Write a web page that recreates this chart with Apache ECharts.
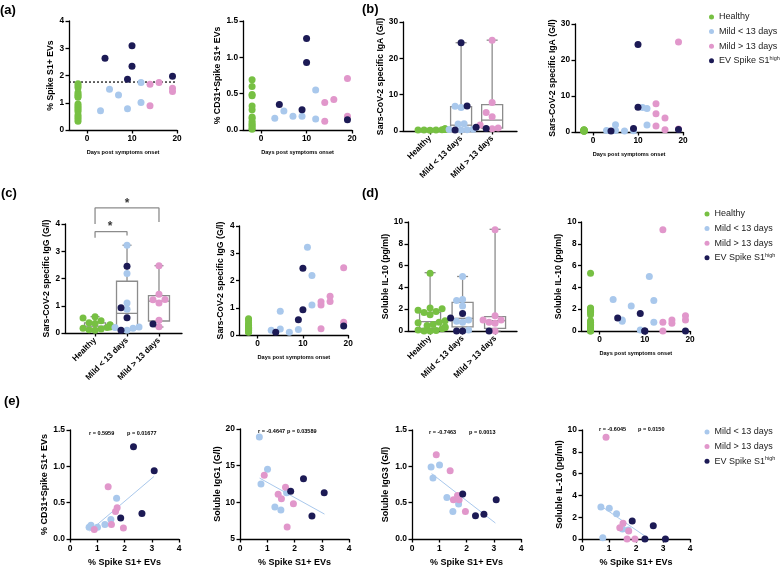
<!DOCTYPE html>
<html>
<head>
<meta charset="utf-8">
<script src="https://cdn.jsdelivr.net/npm/echarts@6/dist/echarts.min.js"></script>
<style>
  html, body { margin: 0; padding: 0; background: #fff; }
  #chart { width: 780px; height: 568px; }
</style>
</head>
<body>
<div id="chart"></div>
<script>
// ---------- data ----------
var groups = ['Healthy', 'Mild < 13 days', 'Mild > 13 days', 'EV Spike S1high'];
var boxCats = ['Healthy', 'Mild < 13 days', 'Mild > 13 days'];
var healthyDay = -2;          // healthy donors are plotted left of day 0
var dayTicks = [0, 10, 20];

// (a) % Spike S1+ EVs vs days
var spikeHealthy = [0.32, 0.4, 0.48, 0.55, 0.68, 0.75, 0.82, 0.88, 0.95, 1.2, 1.25, 1.3, 1.38, 1.55, 1.62, 1.7];
var spikeEarly = [[3, 0.71], [5, 1.5], [7, 1.28], [9, 0.78], [12, 1.01], [12, 1.74]];
var spikeLate = [[14, 1.68], [14, 0.89], [16, 1.74], [19, 1.53], [19, 1.41]];
var spikeHigh = [[4, 2.63], [9, 1.86], [10, 3.09], [10, 2.34], [19, 1.97]];
var spikeCutoff = 1.76;

// (a) % CD31+Spike S1+ EVs vs days
var cd31Healthy = [0.69, 0.6, 0.49, 0.47, 0.33, 0.28, 0.18, 0.16, 0.12, 0.09, 0.07, 0.05, 0.02, 0.01];
var cd31Early = [[3, 0.16], [5, 0.26], [7, 0.19], [9, 0.19], [12, 0.55], [12, 0.15]];
var cd31Late = [[14, 0.38], [14, 0.12], [16, 0.42], [19, 0.71], [19, 0.19]];
var cd31High = [[4, 0.35], [9, 0.28], [10, 1.26], [10, 0.93], [19, 0.14]];

// (b) IgA
var igaHealthy = [0.2, 0.25, 0.3, 0.3, 0.35, 0.4, 0.4, 0.45, 0.5, 0.5, 0.55, 0.6, 0.45];
var igaEarly = [[3, 0.4], [5, 2.0], [5, 0.45], [7, 0.3], [9, 0.35], [11, 6.8], [12, 6.5], [12, 1.95]];
var igaLate = [[14, 7.86], [14, 5.1], [14, 1.67], [16, 3.9], [16, 0.65], [19, 25], [19, 0.8]];
var igaHigh = [[4, 0.3], [9, 1.0], [10, 24.3], [10, 6.9], [19, 0.72]];
var igaBox = [[0.1, 0.3, 0.4, 0.5, 0.7], [0.3, 0.55, 1.6, 6.7, 24.3], [0.72, 0.83, 3.0, 7.25, 25]];

// (c) IgG
var iggHealthy = [0.1, 0.12, 0.15, 0.17, 0.2, 0.22, 0.25, 0.28, 0.3, 0.35, 0.38, 0.45, 0.55, 0.6];
var iggEarly = [[3, 0.17], [5, 0.87], [5, 0.22], [7, 0.1], [9, 0.2], [11, 3.22], [12, 2.18], [12, 1.1]];
var iggLate = [[14, 1.22], [14, 1.1], [14, 0.23], [16, 1.42], [16, 1.23], [19, 2.47], [19, 0.47]];
var iggHigh = [[4, 0.1], [9, 0.56], [10, 2.45], [10, 0.93], [19, 0.33]];
var iggBox = [[0.1, 0.17, 0.25, 0.37, 0.6], [0.1, 0.15, 0.72, 1.9, 3.22], [0.22, 0.44, 1.17, 1.37, 2.47]];
var sigLow = [[0, 3.5], [0, 3.72], [1, 3.72], [1, 3.58]];
var sigHigh = [[0, 4.0], [0, 4.59], [2, 4.59], [2, 4.07]];
var sigStars = [[0.47, 3.9], [1, 4.76]];

// (d) IL-10
var il10Healthy = [5.3, 2.1, 2.05, 1.9, 1.8, 1.7, 1.5, 0.95, 0.8, 0.75, 0.6, 0.5, 0.4, 0.3, 0.2, 0.1, 0.05, 0, 0];
var il10Early = [[3, 2.9], [5, 1.0], [5, 0.9], [7, 2.3], [9, 0.1], [11, 5.0], [12, 2.8], [12, 0.8]];
var il10Late = [[14, 9.3], [14, 0.8], [14, 0], [16, 1.0], [16, 0.7], [19, 1.4], [19, 1.0]];
var il10High = [[4, 1.2], [9, 1.6], [10, 0], [10, 0], [19, 0]];
var il10Box = [[0, 0.25, 0.86, 1.71, 5.35], [0, 0.37, 1.16, 2.63, 5.0], [0, 0.25, 0.95, 1.31, 9.33]];

// (e) correlations with % Spike S1+ EVs
var e1Early = [[0.7, 0.16], [0.77, 0.19], [1.01, 0.16], [1.28, 0.2], [1.5, 0.27], [1.71, 0.56]];
var e1Late = [[0.89, 0.13], [1.4, 0.72], [1.52, 0.2], [1.67, 0.38], [1.73, 0.43], [1.96, 0.15]];
var e1High = [[1.86, 0.29], [2.33, 1.27], [2.64, 0.35], [3.09, 0.94]];
var e1Fit = [[0.72, 0.11], [3.08, 0.86]];

var e2Early = [[0.71, 18.9], [1.01, 14.5], [0.77, 12.5], [1.28, 9.35], [1.5, 8.95], [1.71, 11.3]];
var e2Late = [[0.89, 13.7], [1.67, 12.05], [1.4, 11.1], [1.52, 10.5], [1.96, 9.8], [1.73, 6.65]];
var e2High = [[2.33, 13.2], [1.86, 11.5], [3.09, 11.3], [2.64, 8.15]];
var e2Fit = [[0.72, 13.3], [3.1, 8.4]];

var e3Early = [[0.7, 0.99], [1.01, 1.02], [0.77, 0.84], [1.28, 0.57], [1.71, 0.48], [1.5, 0.38]];
var e3Late = [[0.89, 1.16], [1.4, 0.94], [1.67, 0.6], [1.52, 0.54], [1.73, 0.54], [1.96, 0.38]];
var e3High = [[1.86, 0.62], [2.33, 0.32], [2.64, 0.34], [3.09, 0.54]];
var e3Fit = [[0.72, 0.9], [3.06, 0.22]];

var e4Early = [[0.7, 2.94], [1.01, 2.81], [1.28, 2.32], [1.5, 0.92], [1.71, 0.83], [0.77, 0.12]];
var e4Late = [[0.89, 9.33], [1.52, 1.44], [1.4, 1.04], [1.73, 0.73], [1.67, 0], [1.96, 0]];
var e4High = [[1.86, 1.65], [2.64, 1.22], [2.33, 0], [3.09, 0]];
var e4Fit = [[0.7, 3.03], [2.49, 0]];

var stats = [
  ['r = 0.5959', 'p = 0.01677'],
  ['r = -0.4647', 'p = 0.03589'],
  ['r = -0.7463', 'p = 0.0013'],
  ['r = -0.6045', 'p = 0.0150']
];

// ---------- styling ----------
var font = '"Liberation Sans", Arial, sans-serif';
var colors = {
  'Healthy': '#77c043',
  'Mild < 13 days': '#a9c8ec',
  'Mild > 13 days': '#e197cb',
  'EV Spike S1high': '#1c1a55'
};
var boxColor = '#8c8c8c';
var dot = 7;

var grids = [], xAxes = [], yAxes = [], series = [];

function axisBase() {
  return {
    axisLine: { show: true, onZero: false, lineStyle: { color: '#000', width: 1.3 } },
    axisTick: { show: true, length: 3.5, lineStyle: { color: '#000', width: 1.3 } },
    splitLine: { show: false },
    nameLocation: 'middle',
    nameTextStyle: { fontFamily: font, fontWeight: 'bold', fontSize: 8.7, color: '#000' },
    axisLabel: { fontFamily: font, fontWeight: 'bold', fontSize: 8.3, color: '#000', margin: 5 }
  };
}

// p: {left, top, width, height, x: {...}, y: {...}}
function addPanel(p) {
  var g = grids.length;
  grids.push({ left: p.left, top: p.top, width: p.width, height: p.height });
  var x = axisBase(), y = axisBase();
  x.gridIndex = g; y.gridIndex = g;
  x.type = 'value'; y.type = 'value';
  Object.assign(x, p.x);
  Object.assign(y, p.y);
  if (p.x.label) { Object.assign(x.axisLabel, p.x.label); delete x.label; }
  if (p.y.label) { Object.assign(y.axisLabel, p.y.label); delete y.label; }
  if (p.x.nameFont) { x.nameTextStyle.fontSize = p.x.nameFont; delete x.nameFont; }
  if (p.y.nameFont) { y.nameTextStyle.fontSize = p.y.nameFont; delete y.nameFont; }
  if (p.x.ticks) {
    x.axisTick.customValues = p.x.ticks;
    x.axisLabel.customValues = p.x.ticks;
    delete x.ticks;
  }
  xAxes.push(x); yAxes.push(y);
  return g;
}

function dayX(name) {
  return { min: -4, max: 20, ticks: dayTicks, name: name || 'Days post symptoms onset', nameGap: 19, nameFont: 5.6 };
}
function catX(min, max) {
  return {
    min: min, max: max, ticks: [0, 1, 2],
    label: { rotate: 45, fontSize: 8.3, margin: 6, formatter: function (v) { return boxCats[Math.round(v)]; } }
  };
}
function fixed1(v) { return v.toFixed(1); }

function dots(name, g, data) {
  return {
    name: name, type: 'scatter', xAxisIndex: g, yAxisIndex: g, z: 3,
    symbolSize: dot, itemStyle: { color: colors[name], opacity: 1 },
    data: data
  };
}

// scatter of one marker over days, healthy drawn as a column
function dayScatter(g, healthy, early, late, high) {
  series.push(dots(groups[0], g, healthy.map(function (v) { return [healthyDay, v]; })));
  series.push(dots(groups[1], g, early));
  series.push(dots(groups[2], g, late));
  series.push(dots(groups[3], g, high));
}

// jittered dots per category (simple beeswarm in pixel space)
var offs = [0, -6, 6, -12, 12, -3, 3, -9, 9, -15, 15];
function swarm(g, ppu, healthy, early, late, high) {
  var isEarly = function (p) { return p[0] < 13; };
  var cats = [
    [[groups[0], healthy]],
    [[groups[1], early.map(function (p) { return p[1]; })],
     [groups[3], high.filter(isEarly).map(function (p) { return p[1]; })]],
    [[groups[2], late.map(function (p) { return p[1]; })],
     [groups[3], high.filter(function (p) { return !isEarly(p); }).map(function (p) { return p[1]; })]]
  ];
  var out = {};
  cats.forEach(function (parts, ci) {
    var pts = [];
    parts.forEach(function (pt) {
      pt[1].forEach(function (v) { pts.push({ name: pt[0], v: v }); });
    });
    pts.sort(function (a, b) { return a.v - b.v; });
    var placed = [];
    pts.forEach(function (pt) {
      var y = pt.v * ppu, dx = 0;
      for (var k = 0; k < offs.length; k++) {
        dx = offs[k];
        var ok = true;
        for (var j = 0; j < placed.length; j++) {
          var ddx = placed[j][0] - dx, ddy = placed[j][1] - y;
          if (ddx * ddx + ddy * ddy < 36) { ok = false; break; }
        }
        if (ok) break;
      }
      placed.push([dx, y]);
      (out[pt.name] = out[pt.name] || []).push({ value: [ci, pt.v], symbolOffset: [dx, 0] });
    });
  });
  groups.forEach(function (n) { if (out[n]) series.push(dots(n, g, out[n])); });
}

function boxes(g, st, hw, cw) {
  series.push({
    type: 'custom', xAxisIndex: g, yAxisIndex: g, z: 1, silent: true,
    data: st.map(function (s, i) { return [i].concat(s); }),
    renderItem: function (params, api) {
      var x = api.value(0);
      var pt = function (d) { return api.coord([x, api.value(d)]); };
      var lo = pt(1), q1 = pt(2), md = pt(3), q3 = pt(4), hi = pt(5);
      var cx = md[0];
      var ln = function (x1, y1, x2, y2) {
        return { type: 'line', shape: { x1: x1, y1: y1, x2: x2, y2: y2 }, style: { stroke: boxColor, lineWidth: 1.3 } };
      };
      return {
        type: 'group', children: [
          { type: 'rect', shape: { x: cx - hw, y: q3[1], width: 2 * hw, height: q1[1] - q3[1] },
            style: { fill: 'none', stroke: boxColor, lineWidth: 1.3 } },
          ln(cx - hw, md[1], cx + hw, md[1]),
          ln(cx, q3[1], cx, hi[1]), ln(cx - cw, hi[1], cx + cw, hi[1]),
          ln(cx, q1[1], cx, lo[1]), ln(cx - cw, lo[1], cx + cw, lo[1])
        ]
      };
    }
  });
}

function plainLine(g, data, color, width, type) {
  series.push({
    type: 'line', xAxisIndex: g, yAxisIndex: g, data: data, symbol: 'none', clip: false,
    silent: true, z: 2, lineStyle: { color: color, width: width, type: type || 'solid' }
  });
}

// ---------- row 1 ----------
var gA1 = addPanel({ left: 69, top: 21, width: 108, height: 109,
  x: dayX(), y: { min: 0, max: 4, interval: 1, name: '% Spike S1+ EVs', nameGap: 12 } });
plainLine(gA1, [[-4, spikeCutoff], [20, spikeCutoff]], '#000', 1.2, [2, 2]);
dayScatter(gA1, spikeHealthy, spikeEarly, spikeLate, spikeHigh);

var gA2 = addPanel({ left: 243, top: 21, width: 109, height: 109,
  x: dayX(), y: { min: 0, max: 1.5, interval: 0.5, name: '% CD31+Spike S1+ EVs', nameGap: 21, label: { formatter: fixed1 } } });
dayScatter(gA2, cd31Healthy, cd31Early, cd31Late, cd31High);

var gB1 = addPanel({ left: 403, top: 22, width: 114, height: 109,
  x: catX(-0.87, 2.8), y: { min: 0, max: 30, interval: 10, name: 'Sars-CoV-2 specific IgA (G/l)', nameGap: 14 } });
boxes(gB1, igaBox, 10.5, 5.5);
swarm(gB1, 109 / 30, igaHealthy, igaEarly, igaLate, igaHigh);

var gB2 = addPanel({ left: 575, top: 24, width: 108, height: 108,
  x: dayX(), y: { min: 0, max: 30, interval: 10, name: 'Sars-CoV-2 specific IgA (G/l)', nameGap: 17 } });
dayScatter(gB2, igaHealthy, igaEarly, igaLate, igaHigh);

// ---------- row 2 ----------
var gC1 = addPanel({ left: 65, top: 224, width: 117, height: 109,
  x: catX(-0.94, 2.72), y: { min: 0, max: 4, interval: 1, name: 'Sars-CoV-2 specific IgG (G/l)', nameGap: 8 } });
boxes(gC1, iggBox, 10.5, 4.5);
swarm(gC1, 109 / 4, iggHealthy, iggEarly, iggLate, iggHigh);
plainLine(gC1, sigLow, boxColor, 1.3);
plainLine(gC1, sigHigh, boxColor, 1.3);
series.push({
  type: 'scatter', xAxisIndex: gC1, yAxisIndex: gC1, data: sigStars, symbolSize: 0, clip: false, silent: true,
  label: { show: true, position: 'inside', formatter: '*', fontFamily: font, fontWeight: 'bold', fontSize: 12, color: '#000' }
});

var gC2 = addPanel({ left: 239.5, top: 226, width: 108.7, height: 109,
  x: dayX(), y: { min: 0, max: 4, interval: 1, name: 'Sars-CoV-2 specific IgG (G/l)', nameGap: 14 } });
dayScatter(gC2, iggHealthy, iggEarly, iggLate, iggHigh);

var gD1 = addPanel({ left: 408, top: 222, width: 109, height: 109,
  x: catX(-0.68, 2.675), y: { min: 0, max: 10, interval: 2, name: 'Soluble IL-10 (pg/ml)', nameGap: 18 } });
boxes(gD1, il10Box, 10.5, 5.5);
swarm(gD1, 109 / 10, il10Healthy, il10Early, il10Late, il10High);

var gD2 = addPanel({ left: 581.5, top: 222, width: 108.5, height: 109,
  x: dayX(), y: { min: 0, max: 10, interval: 2, name: 'Soluble IL-10 (pg/ml)', nameGap: 18 } });
dayScatter(gD2, il10Healthy, il10Early, il10Late, il10High);

// ---------- row 3 ----------
function eX() {
  return { min: 0, max: 4, interval: 1, name: '% Spike S1+ EVs', nameGap: 19, nameFont: 9, label: { fontSize: 8.5 } };
}
function corr(g, early, late, high, fit) {
  plainLine(g, fit, colors[groups[1]], 1);
  series.push(dots(groups[1], g, early));
  series.push(dots(groups[2], g, late));
  series.push(dots(groups[3], g, high));
}
var gE1 = addPanel({ left: 70, top: 430, width: 109, height: 109,
  x: eX(), y: { min: 0, max: 1.5, interval: 0.5, name: '% CD31+Spike S1+ EVs', nameGap: 20, nameFont: 9, label: { formatter: fixed1, fontSize: 8.5 } } });
corr(gE1, e1Early, e1Late, e1High, e1Fit);

var gE2 = addPanel({ left: 240, top: 429, width: 109, height: 110,
  x: eX(), y: { min: 5, max: 20, interval: 5, name: 'Soluble IgG1 (G/l)', nameGap: 16, nameFont: 9, label: { fontSize: 8.5 } } });
corr(gE2, e2Early, e2Late, e2High, e2Fit);

var gE3 = addPanel({ left: 412, top: 430, width: 109, height: 109,
  x: eX(), y: { min: 0, max: 1.5, interval: 0.5, name: 'Soluble IgG3 (G/l)', nameGap: 22, nameFont: 9, label: { formatter: fixed1, fontSize: 8.5 } } });
corr(gE3, e3Early, e3Late, e3High, e3Fit);

var gE4 = addPanel({ left: 582, top: 430, width: 108, height: 109,
  x: eX(), y: { min: 0, max: 10, interval: 2, name: 'Soluble IL-10 (pg/ml)', nameGap: 17, nameFont: 9, label: { fontSize: 8.5 } } });
corr(gE4, e4Early, e4Late, e4High, e4Fit);

// ---------- legends and labels ----------
function legendAt(left, top, names) {
  return {
    left: left, top: top, orient: 'vertical', selectedMode: false,
    data: names.map(function (n) { return { name: n, icon: 'circle' }; }),
    itemWidth: 5, itemHeight: 5, itemGap: 3.6, itemTextGap: 9,
    textStyle: {
      fontFamily: font, fontSize: 9, color: '#222', lineHeight: 11,
      rich: {
        n: { fontFamily: font, fontSize: 9, lineHeight: 11, color: '#222' },
        s: { fontFamily: font, fontSize: 5.5, lineHeight: 11, color: '#222', verticalAlign: 'top' }
      }
    },
    formatter: function (n) { return n === 'EV Spike S1high' ? '{n|EV Spike S1}{s|high}' : n; }
  };
}

var graphics = [];
function txt(x, y, s, size, weight) {
  graphics.push({
    type: 'text', x: x, y: y, silent: true,
    style: { text: s, fontFamily: font, fontSize: size, fontWeight: weight || 'bold', fill: '#000', verticalAlign: 'middle' }
  });
}
txt(0, 10, '(a)', 13);
txt(362, 9, '(b)', 13);
txt(1, 193, '(c)', 13);
txt(362, 193, '(d)', 13);
txt(4, 401, '(e)', 13);

var statPos = [[89, 127, 433], [258, 287, 431], [429, 469, 432], [599, 638, 429]];
stats.forEach(function (s, i) {
  txt(statPos[i][0], statPos[i][2], s[0], 5.5);
  txt(statPos[i][1], statPos[i][2], s[1], 5.5);
});

var chart = echarts.init(document.getElementById('chart'), null, { renderer: 'canvas' });
chart.setOption({
  backgroundColor: '#fff',
  animation: false,
  grid: grids,
  xAxis: xAxes,
  yAxis: yAxes,
  legend: [
    legendAt(704, 6.5, groups),
    legendAt(699.5, 203.5, groups),
    legendAt(699.5, 421.5, groups.slice(1))
  ],
  graphic: graphics,
  series: series
});
</script>
</body>
</html>
